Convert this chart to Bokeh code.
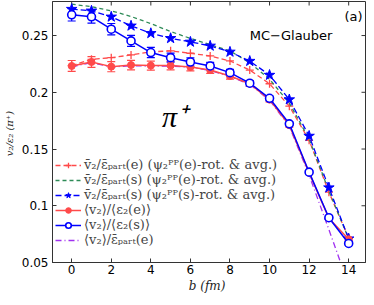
import math
from bokeh.plotting import figure
from bokeh.models import (ColumnDataSource, Whisker, TeeHead, Legend, LegendItem,
                          FixedTicker, Label, Range1d)
from bokeh.embed import file_html
from bokeh.resources import INLINE

# ---------------- data ----------------
b = [0, 1, 2, 3, 4, 5, 6, 7, 8, 9, 10, 11, 12, 13, 14]

red_plus = [0.2235, 0.2290, 0.2305, 0.2329, 0.2356, 0.2365, 0.2344, 0.2320,
            0.2276, 0.2196, 0.2075, 0.1878, 0.1577, 0.1120, 0.0715]
green_dash = [0.2777, 0.2754, 0.2718, 0.2668, 0.2605, 0.2535, 0.2475, 0.2420,
              0.2365, 0.2260, 0.2115, 0.1905, 0.1588, 0.1130, 0.0710]
blue_star = [0.2733, 0.2718, 0.2665, 0.2586, 0.2520, 0.2476, 0.2444, 0.2409,
             0.2356, 0.2275, 0.2152, 0.1936, 0.1615, 0.1160, 0.0710]
red_filled = [0.2232, 0.2267, 0.2226, 0.2240, 0.2235, 0.2235, 0.2222, 0.2196,
              0.2143, 0.2075, 0.1935, 0.1710, 0.1290, 0.0890, 0.0705]
red_err = [0.0048, 0.0048, 0.0045, 0.0042, 0.0040, 0.0037, 0.0034, 0.0030,
           0.0027, 0.0024, 0.0020, 0.0017, 0.0014, 0.0012, 0.0010]
blue_open = [0.2683, 0.2665, 0.2556, 0.2453, 0.2350, 0.2305, 0.2267, 0.2232,
             0.2173, 0.2080, 0.1947, 0.1722, 0.1296, 0.0895, 0.0668]
blue_err = [0.0055, 0.0055, 0.0050, 0.0048, 0.0045, 0.0040, 0.0036, 0.0032,
            0.0028, 0.0024, 0.0020, 0.0017, 0.0014, 0.0012, 0.0010]
purple_dd = [0.2225, 0.2262, 0.2222, 0.2235, 0.2230, 0.2232, 0.2220, 0.2192,
             0.2140, 0.2070, 0.1930, 0.1700, 0.1270, 0.0790, 0.0300]

x_ticks = [0, 2, 4, 6, 8, 10, 12, 14]
y_ticks = [0.05, 0.1, 0.15, 0.2, 0.25]
y_tick_labels = ["0.05", "0.1", "0.15", "0.2", "0.25"]

labels = [
    "v\u0304\u2082/\u03b5\u0304\u209a\u2090\u1d63\u209c(e) (\u03c8\u2082\u1d3e\u1d3e(e)-rot. & avg.)",
    "v\u0304\u2082/\u03b5\u0304\u209a\u2090\u1d63\u209c(s) (\u03c8\u2082\u1d3e\u1d3e(e)-rot. & avg.)",
    "v\u0304\u2082/\u03b5\u0304\u209a\u2090\u1d63\u209c(s) (\u03c8\u2082\u1d3e\u1d3e(s)-rot. & avg.)",
    "\u27e8v\u2082\u27e9/\u27e8\u03b5\u2082(e)\u27e9",
    "\u27e8v\u2082\u27e9/\u27e8\u03b5\u2082(s)\u27e9",
    "\u27e8v\u2082\u27e9/\u03b5\u0304\u209a\u2090\u1d63\u209c(e)",
]

RED = "#ff4a4a"
GREEN = "#2e8b57"
BLUE = "#0000ff"
PURPLE = "#a030f0"
AX = "#333333"

XR = Range1d(-0.97, 14.85)
YR = Range1d(0.05, 0.28)
p = figure(frame_width=313, frame_height=261, output_backend="svg", toolbar_location=None,
           x_range=XR, y_range=YR,
           min_border_left=40, min_border_right=1, min_border_top=1, min_border_bottom=0)
p.grid.visible = False
p.outline_line_color = AX
p.background_fill_color = "white"

src = ColumnDataSource(dict(
    b=b,
    rlo=[v - e for v, e in zip(red_filled, red_err)],
    rhi=[v + e for v, e in zip(red_filled, red_err)],
    blo=[v - e for v, e in zip(blue_open, blue_err)],
    bhi=[v + e for v, e in zip(blue_open, blue_err)],
))

# mirrored inward ticks on top and right edges (half of each dash is clipped by the frame)
p.scatter(x_ticks, [YR.end] * len(x_ticks), marker="dash", size=8, angle=math.pi / 2,
          line_color=AX, line_width=1)
p.scatter([XR.end] * len(y_ticks), y_ticks, marker="dash", size=8,
          line_color=AX, line_width=1)

# purple dash-dot
r6 = p.line(b, purple_dd, line_color=PURPLE, line_dash="6 3 1 3", line_width=1.3)
# red + dashed
r1l = p.line(b, red_plus, line_color=RED, line_dash="5 3", line_width=1.3)
r1m = p.scatter(b, red_plus, marker="cross", size=8, line_color=RED, line_width=1.3)
# green dashed
r2 = p.line(b, green_dash, line_color=GREEN, line_dash="4 3", line_width=1.3)
# blue stars dashed
r3l = p.line(b, blue_star, line_color=BLUE, line_dash="6 3", line_width=1.3)
r3m = p.scatter(b, blue_star, marker="star", size=11, fill_color=BLUE, line_color=BLUE)
# red filled solid with errors
p.add_layout(Whisker(base="b", lower="rlo", upper="rhi", source=src, line_color=RED,
                     line_width=1.2,
                     upper_head=TeeHead(size=8, line_color=RED, line_width=1.2),
                     lower_head=TeeHead(size=8, line_color=RED, line_width=1.2)))
r4l = p.line(b, red_filled, line_color=RED, line_width=1.5)
r4m = p.scatter(b, red_filled, marker="circle", size=7, fill_color=RED, line_color=RED)
# blue open solid with errors
p.add_layout(Whisker(base="b", lower="blo", upper="bhi", source=src, line_color=BLUE,
                     line_width=1.2,
                     upper_head=TeeHead(size=8, line_color=BLUE, line_width=1.2),
                     lower_head=TeeHead(size=8, line_color=BLUE, line_width=1.2)))
r5l = p.line(b, blue_open, line_color=BLUE, line_width=1.5)
r5m = p.scatter(b, blue_open, marker="circle", size=8, fill_color="white",
                line_color=BLUE, line_width=1.6)

# axes
for ax in p.xaxis:
    ax.ticker = FixedTicker(ticks=x_ticks)
    ax.axis_label = "b  (fm)"
for ax in p.yaxis:
    ax.ticker = FixedTicker(ticks=y_ticks)
    ax.major_label_overrides = {t: s for t, s in zip(y_ticks, y_tick_labels)}
    ax.axis_label = "v\u2082/\u03b5\u2082  (\u03c0\u207a)"
for ax in list(p.xaxis) + list(p.yaxis):
    ax.major_tick_in = 4
    ax.major_tick_out = 0
    ax.minor_tick_line_color = None
    ax.axis_line_color = AX
    ax.major_tick_line_color = AX
    ax.major_label_text_font = "DejaVu Sans"
    ax.major_label_text_font_size = "12px"
    ax.major_label_text_color = "black"
    ax.axis_label_text_font = "DejaVu Serif"
    ax.axis_label_text_font_style = "italic"
    ax.axis_label_text_color = "#222222"
p.xaxis.major_label_standoff = 2
p.xaxis.axis_label_standoff = 2
p.xaxis.axis_label_text_font_size = "12px"
p.yaxis.major_label_standoff = 4
p.yaxis.axis_label_standoff = 4
p.yaxis.axis_label_text_font_size = "10px"

# annotations
p.add_layout(Label(x=5.2, y=0.179, text="\u03c0\u207a", text_font="Liberation Serif",
                   text_font_style="italic", text_font_size="30px",
                   text_align="center", text_baseline="middle", text_color="black"))
p.add_layout(Label(x=9.0, y=0.2500, text="MC\u2212Glauber", text_font="DejaVu Sans",
                   text_font_size="13px", text_align="left", text_baseline="middle",
                   text_color="black"))
p.add_layout(Label(x=14.7, y=0.2668, text="(a)", text_font="DejaVu Sans",
                   text_font_size="13px", text_align="right", text_baseline="middle",
                   text_color="black"))

legend = Legend(items=[
    LegendItem(label=labels[0], renderers=[r1l, r1m]),
    LegendItem(label=labels[1], renderers=[r2]),
    LegendItem(label=labels[2], renderers=[r3l, r3m]),
    LegendItem(label=labels[3], renderers=[r4l, r4m]),
    LegendItem(label=labels[4], renderers=[r5l, r5m]),
    LegendItem(label=labels[5], renderers=[r6]),
], location=(3, 15), background_fill_alpha=0, border_line_color=None,
    label_text_font="DejaVu Serif", label_text_font_size="13px",
    glyph_width=26, glyph_height=14, label_height=14, label_standoff=3,
    spacing=0, padding=2, margin=0)
p.add_layout(legend, "center")

open("out.html", "w").write(file_html(p, INLINE))
